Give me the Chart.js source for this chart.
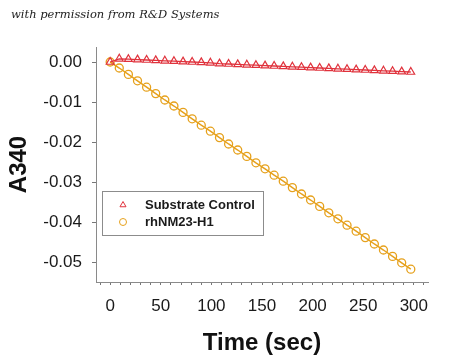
<!DOCTYPE html>
<html>
<head>
<meta charset="utf-8">
<script src="https://cdn.jsdelivr.net/npm/chart.js@4"></script>
<style>
  body { margin: 0; background: #fff; }
  #wrap { position: relative; width: 450px; height: 359px; }
  #note {
    position: absolute; left: 11px; top: 7px;
    font: italic 11.5px "DejaVu Serif", serif; color: #222;
  }
</style>
</head>
<body>
<div id="wrap">
  <canvas id="chart" width="450" height="359"></canvas>
  <div id="note">with permission from R&amp;D Systems</div>
</div>
<script>
// ------------------- DATA -------------------
const timeSec = [0, 9, 18, 27, 36, 45, 54, 63, 72, 81, 90, 99, 108, 117, 126, 135, 144,
  153, 162, 171, 180, 189, 198, 207, 216, 225, 234, 243, 252, 261, 270, 279, 288, 297];

const substrateControl = [0.0000, 0.0008, 0.0007, 0.0006, 0.0005, 0.0004, 0.0003, 0.0002,
  0.0001, 0.0000, -0.0001, -0.0002, -0.0004, -0.0005, -0.0006, -0.0007, -0.0008, -0.0009,
  -0.0010, -0.0011, -0.0012, -0.0013, -0.0014, -0.0015, -0.0016, -0.0017, -0.0018, -0.0019,
  -0.0020, -0.0021, -0.0022, -0.0023, -0.0024, -0.0025];

const rhNM23 = [0.0000, -0.0015, -0.0031, -0.0047, -0.0063, -0.0079, -0.0095, -0.0110,
  -0.0126, -0.0142, -0.0158, -0.0173, -0.0189, -0.0205, -0.0220, -0.0236, -0.0252, -0.0267,
  -0.0283, -0.0298, -0.0314, -0.0330, -0.0345, -0.0361, -0.0377, -0.0392, -0.0408, -0.0423,
  -0.0439, -0.0455, -0.0470, -0.0486, -0.0502, -0.0518];

const xTickValues = [-10, 0, 10, 20, 30, 40, 50, 60, 70, 80, 90, 100, 110, 120, 130, 140, 150,
  160, 170, 180, 190, 200, 210, 220, 230, 240, 250, 260, 270, 280, 290, 300, 310];
const xTickLabels = [0, 50, 100, 150, 200, 250, 300];
const yTickValues = [-0.05, -0.04, -0.03, -0.02, -0.01, 0];

const RED = "#e0323c";
const GOLD = "#e6a11c";
const tickFont = { family: "'Liberation Sans', Arial, sans-serif", size: 17 };
const titleFont = { family: "'Liberation Sans', Arial, sans-serif", size: 24, weight: "bold" };

// ------------------- LEGEND (inside plot) -------------------
const legendBox = {
  id: "legendBox",
  afterDraw(chart) {
    const c = chart.ctx;
    c.save();
    c.strokeStyle = "#8c8c8c";
    c.lineWidth = 1;
    c.strokeRect(102.5, 191.5, 161, 44);
    const rows = [
      { label: "Substrate Control", style: "triangle", color: RED, y: 205 },
      { label: "rhNM23-H1", style: "circle", color: GOLD, y: 222 }
    ];
    c.font = "bold 13px 'Liberation Sans', Arial, sans-serif";
    c.textBaseline = "middle";
    rows.forEach(r => {
      c.strokeStyle = r.color;
      c.fillStyle = "rgba(0,0,0,0)";
      Chart.helpers.drawPoint(c, { pointStyle: r.style, radius: 3.5, rotation: 0, borderWidth: 1.2 }, 123, r.y);
      c.fillStyle = "#1a1a1a";
      c.fillText(r.label, 145, r.y + 0.5);
    });
    c.restore();
  }
};

// ------------------- CHART -------------------
const ctx = document.getElementById("chart").getContext("2d");
new Chart(ctx, {
  type: "line",
  data: {
    datasets: [
      {
        label: "Substrate Control",
        data: timeSec.map((t, i) => ({ x: t, y: substrateControl[i] })),
        borderColor: RED,
        borderWidth: 1.3,
        pointStyle: "triangle",
        pointRadius: 4.5,
        pointBorderWidth: 1.2,
        pointBorderColor: RED,
        pointBackgroundColor: "rgba(0,0,0,0)",
        tension: 0
      },
      {
        label: "rhNM23-H1",
        data: timeSec.map((t, i) => ({ x: t, y: rhNM23[i] })),
        borderColor: GOLD,
        borderWidth: 1.5,
        pointStyle: "circle",
        pointRadius: 4,
        pointBorderWidth: 1.3,
        pointBorderColor: GOLD,
        pointBackgroundColor: "rgba(0,0,0,0)",
        tension: 0
      }
    ]
  },
  options: {
    responsive: false,
    animation: false,
    layout: { padding: { top: 47, right: 22, left: 0, bottom: 0 } },
    plugins: { legend: { display: false }, tooltip: { enabled: false } },
    scales: {
      x: {
        type: "linear",
        min: -14,
        max: 314,
        afterBuildTicks: s => { s.ticks = xTickValues.map(v => ({ value: v })); },
        afterFit: s => { s.height = 77; },
        ticks: {
          autoSkip: false,
          maxRotation: 0,
          padding: 11,
          color: "#1a1a1a",
          font: tickFont,
          callback: v => (xTickLabels.includes(v) ? String(v) : "")
        },
        grid: { drawOnChartArea: false, tickLength: 3, color: "#777" },
        border: { color: "#8a8a8a", width: 1 },
        title: { display: true, text: "Time (sec)", color: "#111", font: titleFont, padding: { top: 0, bottom: 1 } }
      },
      y: {
        type: "linear",
        min: -0.055,
        max: 0.00375,
        afterBuildTicks: s => { s.ticks = yTickValues.map(v => ({ value: v })); },
        afterFit: s => { s.width = 96; },
        ticks: {
          padding: 10,
          color: "#1a1a1a",
          font: tickFont,
          callback: v => v.toFixed(2)
        },
        grid: { drawOnChartArea: false, tickLength: 4, color: "#777" },
        border: { color: "#8a8a8a", width: 1 },
        title: { display: true, text: "A340", color: "#111", font: titleFont, padding: { top: 5, bottom: 0 } }
      }
    }
  },
  plugins: [legendBox]
});
</script>
</body>
</html>
